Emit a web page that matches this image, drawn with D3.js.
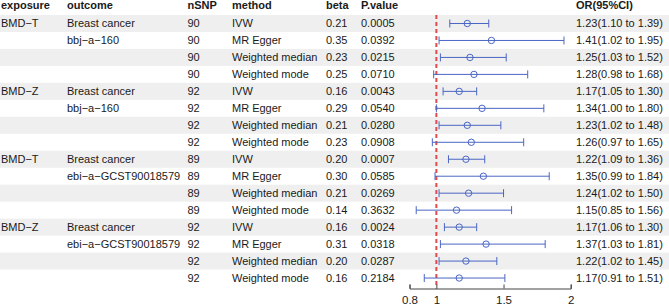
<!DOCTYPE html>
<html>
<head>
<meta charset="utf-8">
<script src="https://cdn.jsdelivr.net/npm/d3@7"></script>
<style>
  body { margin: 0; background: #fff; }
  svg text { font-family: "Liberation Sans", Arial, sans-serif; font-size: 11px; fill: #1a1a1a; }
</style>
</head>
<body>
<svg id="chart" width="669" height="306"></svg>
<script>
const svg = d3.select("#chart");

// table columns
const exposure = ["BMD−T", "", "", "", "BMD−Z", "", "", "", "BMD−T", "", "", "", "BMD−Z", "", "", ""];
const outcome = ["Breast cancer", "bbj−a−160", "", "", "Breast cancer", "bbj−a−160", "", "",
  "Breast cancer", "ebi−a−GCST90018579", "", "", "Breast cancer", "ebi−a−GCST90018579", "", ""];
const nSNP = [90, 90, 90, 90, 92, 92, 92, 92, 89, 89, 89, 89, 92, 92, 92, 92];
const methods = ["IVW", "MR Egger", "Weighted median", "Weighted mode"];
const method = d3.range(16).map((i) => methods[i % 4]);
const beta = ["0.21", "0.35", "0.23", "0.25", "0.16", "0.29", "0.21", "0.23",
  "0.20", "0.30", "0.21", "0.14", "0.16", "0.31", "0.20", "0.16"];
const pval = ["0.0005", "0.0392", "0.0215", "0.0710", "0.0043", "0.0540", "0.0280", "0.0908",
  "0.0007", "0.0585", "0.0269", "0.3632", "0.0024", "0.0318", "0.0287", "0.2184"];
const orVal = [1.23, 1.41, 1.25, 1.28, 1.17, 1.34, 1.23, 1.26, 1.22, 1.35, 1.24, 1.15, 1.17, 1.37, 1.22, 1.17];
const orLow = [1.10, 1.02, 1.03, 0.98, 1.05, 1.00, 1.02, 0.97, 1.09, 0.99, 1.02, 0.85, 1.06, 1.03, 1.02, 0.91];
const orHigh = [1.39, 1.95, 1.52, 1.68, 1.30, 1.80, 1.48, 1.65, 1.36, 1.84, 1.50, 1.56, 1.30, 1.81, 1.45, 1.51];
const xTicks = [0.8, 1, 1.5, 2];

const rows = d3.range(orVal.length);
const rowH = 16.97;
const tableTop = 15;

const y = d3.scaleBand()
  .domain(rows)
  .range([tableTop, tableTop + rows.length * rowH]);

const x = d3.scaleLinear().domain([0.8, 2]).range([409.5, 570.7]);

// zebra bands
svg.selectAll(".band")
  .data(rows.filter((i) => i % 2 === 0))
  .enter()
  .append("rect")
  .attr("x", 0)
  .attr("y", (i) => y(i))
  .attr("width", 669)
  .attr("height", y.bandwidth())
  .attr("fill", "#efefef");

// text columns
const cols = [
  { title: "exposure", x: 1, vals: exposure },
  { title: "outcome", x: 67, vals: outcome },
  { title: "nSNP", x: 187.5, vals: nSNP },
  { title: "method", x: 232, vals: method },
  { title: "beta", x: 326, vals: beta },
  { title: "P.value", x: 361, vals: pval },
  { title: "OR(95%CI)", x: 576, vals: rows.map((i) => `${orVal[i].toFixed(2)}(${orLow[i].toFixed(2)} to ${orHigh[i].toFixed(2)})`) },
];

cols.forEach((c) => {
  svg.append("text")
    .attr("x", c.x)
    .attr("y", 5.5)
    .attr("dy", "0.35em")
    .style("font-weight", "bold")
    .text(c.title);

  svg.selectAll(null)
    .data(rows)
    .enter()
    .append("text")
    .attr("x", c.x)
    .attr("y", (i) => y(i) + y.bandwidth() / 2)
    .attr("dy", "0.35em")
    .text((i) => c.vals[i]);
});

const axisY = 288.5;

// reference line at OR = 1
svg.append("line")
  .attr("x1", x(1))
  .attr("x2", x(1))
  .attr("y1", tableTop)
  .attr("y2", axisY)
  .attr("stroke", "#e04b4b")
  .attr("stroke-width", 2)
  .attr("stroke-dasharray", "4,3");

// CI lines
const blue = "#4a66c4";
const ci = svg.append("g").attr("stroke", blue).attr("fill", "none").attr("stroke-width", 1);
rows.forEach((i) => {
  const cy = y(i) + y.bandwidth() / 2;
  ci.append("line").attr("x1", x(orLow[i])).attr("x2", x(orHigh[i])).attr("y1", cy).attr("y2", cy);
  ci.append("line").attr("x1", x(orLow[i])).attr("x2", x(orLow[i])).attr("y1", cy - 4).attr("y2", cy + 4);
  ci.append("line").attr("x1", x(orHigh[i])).attr("x2", x(orHigh[i])).attr("y1", cy - 4).attr("y2", cy + 4);
});

svg.selectAll(".pt")
  .data(rows)
  .enter()
  .append("circle")
  .attr("cx", (i) => x(orVal[i]))
  .attr("cy", (i) => y(i) + y.bandwidth() / 2)
  .attr("r", 3.2)
  .attr("fill", "none")
  .attr("stroke", blue)
  .attr("stroke-width", 1);

// x axis, ticks pointing up
svg.append("g")
  .attr("transform", `translate(0,${axisY})`)
  .call(d3.axisBottom(x).tickValues(xTicks).tickFormat(d3.format("")).tickSizeInner(-4).tickSizeOuter(-4).tickPadding(7))
  .call((g) => g.selectAll(".domain, .tick line").attr("stroke", "#444"))
  .call((g) => g.selectAll("text").attr("fill", "#1a1a1a").style("font-size", "11.5px").attr("font-family", null));
</script>
</body>
</html>
